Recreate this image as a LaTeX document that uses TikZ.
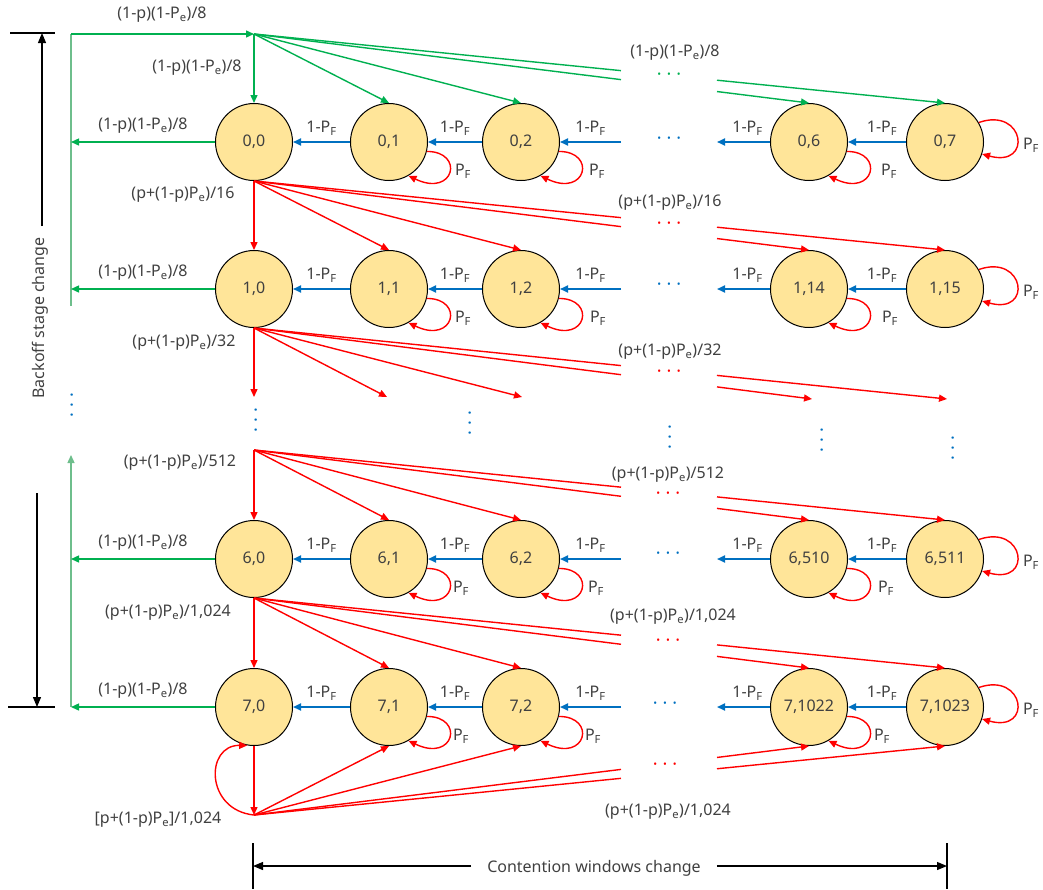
\documentclass[tikz,border=0pt]{standalone}
\usepackage{fontspec}
\setmainfont{Noto Sans}
\usetikzlibrary{arrows.meta,calc}
\definecolor{stfill}{RGB}{255,229,153}
\definecolor{txt}{RGB}{64,64,64}
\definecolor{myred}{RGB}{255,0,0}
\definecolor{myblue}{RGB}{0,112,192}
\definecolor{mygreen}{RGB}{0,176,80}
\definecolor{lgreen}{RGB}{110,190,140}
\newcommand{\Pe}{P\textsubscript{e}}
\newcommand{\PF}{P\textsubscript{F}}
\newcommand{\hd}{\textperiodcentered\hspace{5pt}\textperiodcentered\hspace{5pt}\textperiodcentered}
\newcommand{\gapln}[3]{%
  \draw[#1] (#2) -- (intersection cs:first line={(#2)--(#3)},second line={(gapL)--(gapLb)});
  \draw[#1,->] (intersection cs:first line={(#2)--(#3)},second line={(gapR)--(gapRb)}) -- (#3);}
\newcommand{\lpbr}[2]{%
  \draw[rl,->] (#1.-14) .. controls +(38,0) and +(46,22) .. (#1.-60);
  \node[lbl] (#1pf) at ($(#1)+(#2,29)$) {\PF};}
\newcommand{\lpr}[1]{%
  \draw[rl,->] (#1.30) .. controls +(46,-16) and +(51,14) .. (#1.-18);
  \node[lbl] (#1pf) at ($(#1)+(86,3)$) {\PF};}
\newcommand{\brow}[5]{%
  \draw[bl,->] (#2.west) -- (#1.east) node[lbl,midway,yshift=14pt] (#1b) {1-\PF};
  \draw[bl,->] (#3.west) -- (#2.east) node[lbl,midway,yshift=14pt] (#2b) {1-\PF};
  \draw[bl,->] (#3.east -| gapL) -- (#3.east) node[lbl,midway,yshift=14pt] (#3b) {1-\PF};
  \draw[bl,->] (#4.west) -- (#4.west -| gapR) node[lbl,midway,yshift=14pt,xshift=4pt] (#4b) {1-\PF};
  \draw[bl,->] (#5.west) -- (#4.east) node[lbl,midway,yshift=14pt,xshift=5pt] (#5b) {1-\PF};}
\tikzset{
  st/.style={circle,draw=black,fill=stfill,line width=1pt,minimum size=77pt,inner sep=0pt,text=txt},
  lbl/.style={text=txt,inner sep=0pt},
  rl/.style={draw=myred,line width=1.4pt},
  bl/.style={draw=myblue,line width=1.8pt},
  gl/.style={draw=mygreen,line width=1.4pt},
  lg/.style={draw=lgreen,line width=1.4pt},
  bk/.style={draw=black,line width=1.2pt},
  bigtip/.style={-{Triangle[length=10pt,width=8pt]}},
  rd/.style={text=myred,font=\fontsize{18}{18}\selectfont,inner sep=0pt},
  bd/.style={text=myblue,font=\fontsize{18}{18}\selectfont,inner sep=0pt},
  gd/.style={text=mygreen,font=\fontsize{18}{18}\selectfont,inner sep=0pt},
}
\begin{document}
\begin{tikzpicture}[x=1pt,y=-1pt,font=\fontsize{16}{19}\selectfont,>={Triangle[length=8pt,width=7pt]}]
\useasboundingbox (0,0) rectangle (1043,889);
\coordinate (gapL) at (621,0); \coordinate (gapLb) at (621,889);
\coordinate (gapR) at (717,0); \coordinate (gapRb) at (717,889);
\coordinate (gx) at (71,0);
% states
\node[st] (n00) at (254,142) {0,0};
\node[st] (n01) at (389,142) {0,1};
\node[st] (n02) at (521,142) {0,2};
\node[st] (n06) at (809,142) {0,6};
\node[st] (n07) at (945,142) {0,7};
\node[st] (n10) at (254,289) {1,0};
\node[st] (n11) at (389,289) {1,1};
\node[st] (n12) at (521,289) {1,2};
\node[st] (n114) at (809,289) {1,14};
\node[st] (n115) at (945,289) {1,15};
\node[st] (n60) at (254,559) {6,0};
\node[st] (n61) at (389,559) {6,1};
\node[st] (n62) at (521,559) {6,2};
\node[st] (n6510) at (809,559) {6,510};
\node[st] (n6511) at (945,559) {6,511};
\node[st] (n70) at (254,707) {7,0};
\node[st] (n71) at (389,707) {7,1};
\node[st] (n72) at (521,707) {7,2};
\node[st] (n71022) at (809,707) {7,1022};
\node[st] (n71023) at (945,707) {7,1023};
% blue rows
\brow{n00}{n01}{n02}{n06}{n07}
\brow{n10}{n11}{n12}{n114}{n115}
\brow{n60}{n61}{n62}{n6510}{n6511}
\brow{n70}{n71}{n72}{n71022}{n71023}
\node[bd] (bd0) at (669,141) {\hd};
\node[bd] (bd1) at (669,287) {\hd};
\node[bd] (bd6) at (668,556) {\hd};
\node[bd] (bd7) at (665,706) {\hd};
% self loops
\lpbr{n01}{74}\lpbr{n02}{76}\lpbr{n06}{80}\lpr{n07}
\lpbr{n11}{74}\lpbr{n12}{77}\lpbr{n114}{81}\lpr{n115}
\lpbr{n61}{72}\lpbr{n62}{75}\lpbr{n6510}{77}\lpr{n6511}
\lpbr{n71}{72}\lpbr{n72}{72}\lpbr{n71022}{73}\lpr{n71023}
% green
\coordinate (S0) at (254,34);
\coordinate (gtop) at (71,34);
\coordinate (gmid) at (71,306);
\coordinate (gbot) at (71,707);
\coordinate (gup) at (71,455);
\draw[lg] (gmid) -- (gtop);
\draw[lg,->] (gbot) -- (gup);
\draw[gl,->] (gtop) -- (S0);
\node[lbl] (lt0) at (162,15) {(1-p)(1-\Pe)/8};
\draw[gl,->] (S0) -- (n00.north);
\node[lbl] (lt1) at (197,68) {(1-p)(1-\Pe)/8};
\draw[gl,->] (S0) -- (n01.north);
\draw[gl,->] (S0) -- (n02.north);
\gapln{gl}{S0}{n06.north}
\gapln{gl}{S0}{n07.north}
\node[lbl] (lt2) at (675,53) {(1-p)(1-\Pe)/8};
\node[gd] (gd0) at (669,77) {\hd};
\draw[gl,->] (n00.west) -- (n00.west -| gx) node[lbl,midway,yshift=16pt] (lg0) {(1-p)(1-\Pe)/8};
\draw[gl,->] (n10.west) -- (n10.west -| gx) node[lbl,midway,yshift=16pt] (lg1) {(1-p)(1-\Pe)/8};
\draw[gl,->] (n60.west) -- (n60.west -| gx) node[lbl,midway,yshift=16pt] (lg6) {(1-p)(1-\Pe)/8};
\draw[gl,->] (n70.west) -- (n70.west -| gx) node[lbl,midway,yshift=16pt] (lg7) {(1-p)(1-\Pe)/8};
% red fan 0 -> 1
\draw[rl,->] (n00.south) -- (n10.north);
\draw[rl,->] (n00.south) -- (n11.north);
\draw[rl,->] (n00.south) -- (n12.north);
\gapln{rl}{n00.south}{n114.north}
\gapln{rl}{n00.south}{n115.north}
\node[lbl] (l16a) at (183,195) {(p+(1-p)\Pe)/16};
\node[lbl] (l16b) at (670,203) {(p+(1-p)\Pe)/16};
\node[rd] (rd0) at (669,226) {\hd};
% red fan 1 -> 2
\coordinate (t0) at (254,397);
\coordinate (t1) at (387,397);
\coordinate (t2) at (522,397);
\coordinate (t6) at (812,399);
\coordinate (t7) at (947,399);
\draw[rl,->] (n10.south) -- (t0);
\draw[rl,->] (n10.south) -- (t1);
\draw[rl,->] (n10.south) -- (t2);
\gapln{rl}{n10.south}{t6}
\gapln{rl}{n10.south}{t7}
\node[lbl] (l32a) at (184,343) {(p+(1-p)\Pe)/32};
\node[lbl] (l32b) at (670,352) {(p+(1-p)\Pe)/32};
\node[rd] (rd1) at (669,374) {\hd};
% vertical dots
\node[bd,rotate=90] (vd1) at (75,405) {\hd};
\node[bd,rotate=90] (vd2) at (259,420) {\hd};
\node[bd,rotate=90] (vd3) at (473,423) {\hd};
\node[bd,rotate=90] (vd4) at (673,437) {\hd};
\node[bd,rotate=90] (vd5) at (825,440) {\hd};
\node[bd,rotate=90] (vd6) at (956,448) {\hd};
% red fan -> 6
\coordinate (S6) at (254,450);
\draw[rl,->] (S6) -- (n60.north);
\draw[rl,->] (S6) -- (n61.north);
\draw[rl,->] (S6) -- (n62.north);
\gapln{rl}{S6}{n6510.north}
\gapln{rl}{S6}{n6511.north}
\node[lbl] (l512a) at (180,463) {(p+(1-p)\Pe)/512};
\node[lbl] (l512b) at (668,475) {(p+(1-p)\Pe)/512};
\node[rd] (rd6) at (668,496) {\hd};
% red fan 6 -> 7
\draw[rl,->] (n60.south) -- (n70.north);
\draw[rl,->] (n60.south) -- (n71.north);
\draw[rl,->] (n60.south) -- (n72.north);
\gapln{rl}{n60.south}{n71022.north}
\gapln{rl}{n60.south}{n71023.north}
\node[lbl] (l1024a) at (168,613) {(p+(1-p)\Pe)/1,024};
\node[lbl] (l1024b) at (673,617) {(p+(1-p)\Pe)/1,024};
\node[rd] (rd7) at (668,643) {\hd};
% bottom fan
\coordinate (S7) at (254,815);
\draw[rl,->] (n70.south) -- (S7);
\draw[rl,->] (S7) .. controls (205,810) and (205,745) .. (n70.-100);
\draw[rl,->] (S7) -- (n71.south);
\draw[rl,->] (S7) -- (n72.south);
\gapln{rl}{S7}{n71022.south}
\gapln{rl}{S7}{n71023.south}
\node[rd] (rd8) at (665,767) {\hd};
\node[lbl] (l1024c) at (158,820) {[p+(1-p)\Pe]/1,024};
\node[lbl] (l1024d) at (668,812) {(p+(1-p)\Pe)/1,024};
% backoff stage change
\coordinate (bb1) at (10,33); \coordinate (bb2) at (55,33);
\coordinate (bb3) at (8,707); \coordinate (bb4) at (55,707);
\coordinate (ba1) at (42,226); \coordinate (ba2) at (42,33);
\coordinate (ba3) at (37,493); \coordinate (ba4) at (37,707);
\draw[bk] (bb1) -- (bb2);
\draw[bk] (bb3) -- (bb4);
\draw[bk,bigtip] (ba1) -- (ba2);
\draw[bk,bigtip] (ba3) -- (ba4);
\node[lbl,rotate=90] (bsc) at (40,318) {Backoff stage change};
% contention windows change
\coordinate (cb1) at (253,843); \coordinate (cb2) at (253,889);
\coordinate (cb3) at (947,843); \coordinate (cb4) at (947,889);
\coordinate (cwL) at (253,866); \coordinate (cwR) at (947,866);
\draw[bk] (cb1) -- (cb2);
\draw[bk] (cb3) -- (cb4);
\node[lbl,inner xsep=16pt] (cwc) at (594,868) {Contention windows change};
\draw[bk,bigtip] (cwc.west |- cwL) -- (cwL);
\draw[bk,bigtip] (cwc.east |- cwR) -- (cwR);
\end{tikzpicture}
\end{document}
